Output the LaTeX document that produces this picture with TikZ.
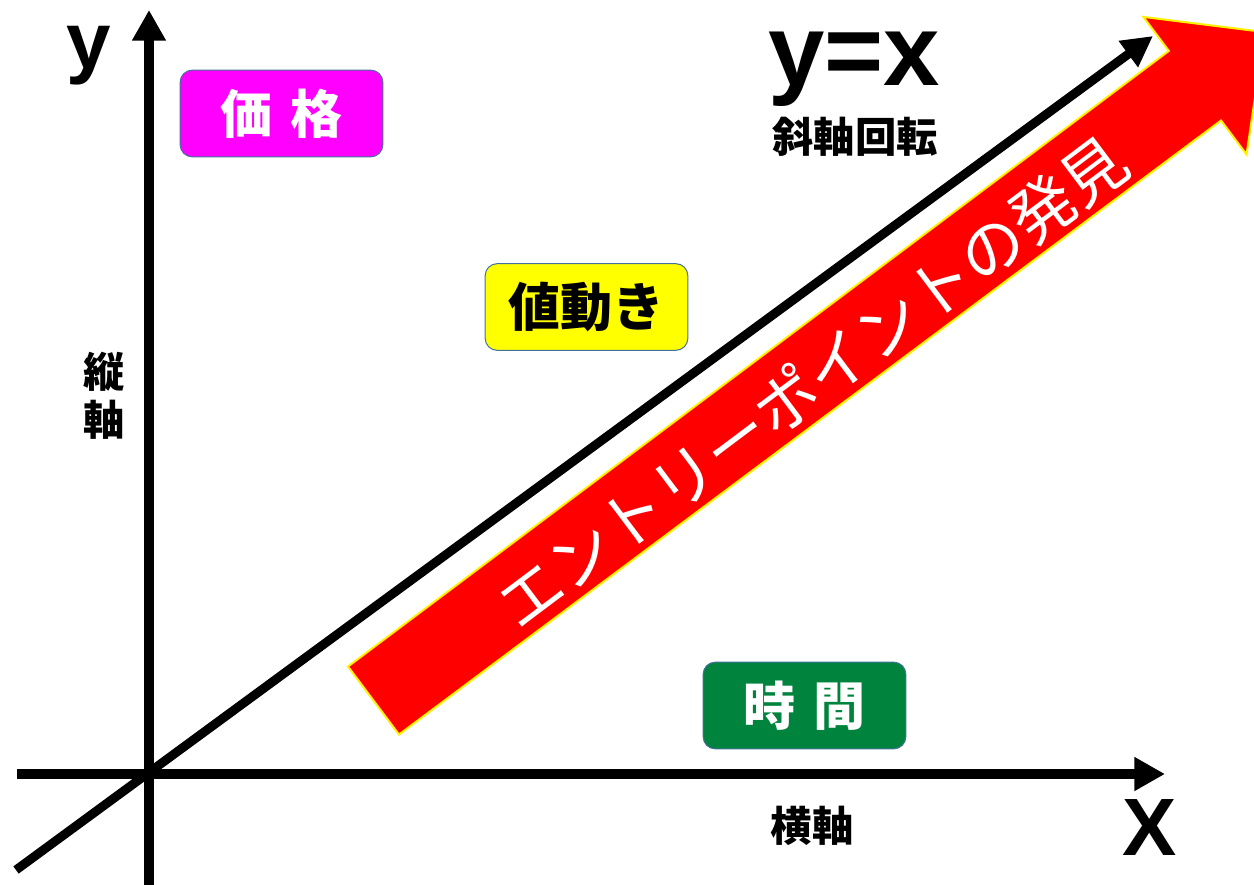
\documentclass[tikz,border=0pt]{standalone}
\usepackage{fontspec}
\setmainfont{Liberation Sans}
\newfontfamily\jpfont{Noto Sans CJK JP}
\usetikzlibrary{arrows.meta}

\definecolor{boxborder}{RGB}{65,113,156}
\definecolor{pricecol}{RGB}{255,0,255}
\definecolor{movecol}{RGB}{255,255,0}
\definecolor{timecol}{RGB}{0,132,61}
\definecolor{entrycol}{RGB}{255,0,0}

\tikzset{
  labelbox/.style={draw=boxborder, line width=0.75pt, rounded corners=9pt,
    minimum width=152pt, minimum height=65pt, inner sep=0pt,
    font=\jpfont\bfseries\fontsize{39}{39}\selectfont},
  axis/.style={line width=7.5pt, -{Triangle[length=23pt,width=24pt]}},
  axislabel/.style={inner sep=0pt, font=\jpfont\bfseries\fontsize{31}{36}\selectfont},
}

\begin{document}
\begin{tikzpicture}[x=0.75pt,y=0.75pt,yscale=-1,xscale=1]
\useasboundingbox (0,0) rectangle (1254,885);
\clip (0,0) rectangle (1254,885);

%Coordinates of the axes
\coordinate (xstart) at (17,774);
\coordinate (xend) at (1165,774);
\coordinate (ystart) at (149,890);
\coordinate (yend) at (149,10);
\coordinate (dstart) at (16,870);
\coordinate (dend) at (1153,36);

%Straight Lines
\draw [axis] (xstart) -- (xend) ;
\draw [axis] (ystart) -- (yend) ;
\draw [line width=6.75pt, -{Triangle[length=23pt,width=23pt]}] (dstart) -- (dend) ;

%Shape: Right Arrow
\draw [draw=yellow, fill=entrycol, line width=1.5pt, line join=miter]
  (348,666.5) -- (1168.8,50.9) -- (1143.3,16.9) -- (1264.7,32.1)
  -- (1246.5,154.5) -- (1221,120.5) -- (399,734.5) -- cycle ;

% Text Node
\draw (812,382) node (entry) [rotate=36.9, inner sep=0pt, text=white,
  font=\jpfont\fontsize{48}{48}\selectfont] {エントリーポイントの発見};

%Shape: Rounded Rectangle
\draw (281.5,113.5) node (price) [labelbox, fill=pricecol, text=white] {価\hspace{0.33em}格};
\draw (586.5,307) node (move) [labelbox, fill=movecol, text=black] {値動き};
\draw (804.5,705.5) node (time) [labelbox, fill=timecol, text=white] {時\hspace{0.33em}間};

% Text Node
\draw (89,68) node (ylabel) [anchor=base, inner sep=0pt, font=\bfseries\fontsize{60}{60}\selectfont] {y};
% Text Node
\draw (1150,855) node (xlabel) [anchor=base, inner sep=0pt, font=\bfseries\fontsize{61}{61}\selectfont] {X};
% Text Node
\draw (854,85) node (yeqx) [anchor=base, inner sep=0pt, font=\bfseries\fontsize{76}{76}\selectfont] {y=x};
% Text Node
\draw (855,137) node (oblique) [axislabel] {斜軸回転};
% Text Node
\draw (104,396) node (vaxis) [axislabel, align=center] {縦\\軸};
% Text Node
\draw (812,826) node (haxis) [axislabel] {横軸};

\end{tikzpicture}
\end{document}
